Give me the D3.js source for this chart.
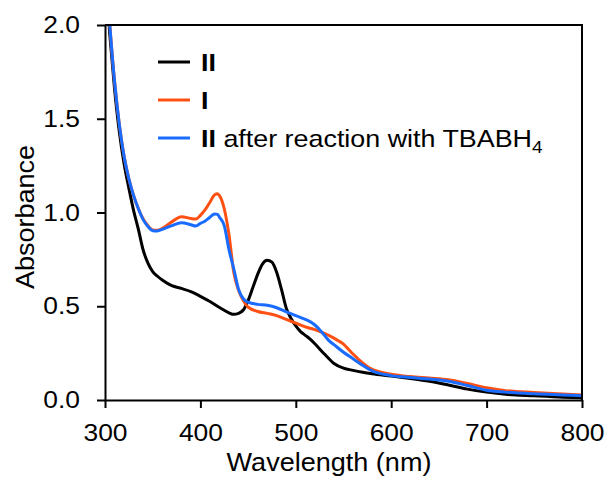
<!DOCTYPE html>
<html>
<head>
<meta charset="utf-8">
<script src="https://cdn.jsdelivr.net/npm/d3@7"></script>
<style>
  body { margin: 0; background: #fff; }
  svg { display: block; font-family: "Liberation Sans", Arial, sans-serif; }
</style>
</head>
<body>
<svg id="chart" width="608" height="477"></svg>
<script>
  // 数据：波长 (nm) 与吸光度
  const wlII = [300,305,310,315,320,325,330,335,340,345,350,355,360,370,380,390,400,410,420,430,435,440,445,450,455,460,465,470,475,480,485,490,495,500,505,510,515,520,530,540,550,560,570,580,600,620,640,660,680,700,720,750,780,800];
  const absII = [2.3,1.95,1.66,1.43,1.26,1.13,1.01,0.91,0.80,0.73,0.685,0.66,0.64,0.61,0.595,0.578,0.553,0.525,0.493,0.465,0.457,0.462,0.48,0.53,0.60,0.67,0.725,0.745,0.735,0.68,0.59,0.49,0.435,0.395,0.365,0.345,0.325,0.30,0.245,0.195,0.17,0.158,0.148,0.14,0.128,0.115,0.1,0.08,0.058,0.042,0.03,0.022,0.015,0.012];

  const wlI = [300,305,310,315,320,325,330,335,340,345,350,355,360,370,380,390,395,400,405,410,415,418,420,425,430,435,440,445,450,460,470,480,490,500,510,520,530,540,545,550,555,560,570,580,600,620,640,660,680,700,720,750,780,800];
  const absI = [2.35,2.0,1.70,1.47,1.30,1.18,1.09,1.02,0.965,0.93,0.907,0.905,0.915,0.95,0.978,0.968,0.965,0.985,1.015,1.055,1.095,1.10,1.09,1.02,0.88,0.68,0.585,0.53,0.495,0.472,0.462,0.45,0.43,0.41,0.39,0.375,0.355,0.33,0.315,0.298,0.272,0.245,0.198,0.163,0.138,0.125,0.117,0.108,0.088,0.065,0.05,0.04,0.032,0.027];

  const wlB = [300,305,310,315,320,325,330,335,340,345,350,355,360,370,380,390,395,400,405,410,415,418,420,425,430,435,440,445,450,460,470,480,490,500,510,515,520,525,530,535,540,550,560,570,580,600,620,640,660,680,700,720,750,780,800];
  const absB = [2.35,2.0,1.70,1.47,1.30,1.18,1.09,1.02,0.962,0.925,0.903,0.902,0.91,0.93,0.946,0.935,0.928,0.942,0.955,0.975,0.992,0.99,0.975,0.93,0.80,0.70,0.59,0.54,0.522,0.51,0.505,0.492,0.47,0.45,0.43,0.418,0.40,0.375,0.345,0.315,0.295,0.255,0.22,0.185,0.155,0.13,0.12,0.112,0.1,0.077,0.052,0.042,0.033,0.027,0.023];

  const xTicks = [300, 400, 500, 600, 700, 800];
  const yTicks = [0, 0.5, 1.0, 1.5, 2.0];

  const series = [
    { name: "II", wl: wlII, abs: absII, color: "#000000" },
    { name: "I", wl: wlI, abs: absI, color: "#ff5014" },
    { name: "IIB", wl: wlB, abs: absB, color: "#1a6cff" }
  ];

  const margin = { left: 105, top: 25, right: 26, bottom: 77 };
  const width = 608 - margin.left - margin.right;
  const height = 477 - margin.top - margin.bottom;
  const sx = 1.1; // 原图文字横向略宽

  const svg = d3.select("#chart");
  const g = svg.append("g").attr("transform", `translate(${margin.left},${margin.top})`);

  const x = d3.scaleLinear().domain([300, 800]).range([0, width]);
  const y = d3.scaleLinear().domain([0, 2.0]).range([height, 0]);

  svg.append("defs").append("clipPath").attr("id", "clip")
    .append("rect").attr("width", width).attr("height", height);

  // 曲线
  const line = d3.line()
    .x(d => x(d[0]))
    .y(d => y(d[1]))
    .curve(d3.curveMonotoneX);

  g.append("g").attr("clip-path", "url(#clip)")
    .selectAll("path")
    .data(series)
    .join("path")
    .attr("fill", "none")
    .attr("stroke", d => d.color)
    .attr("stroke-width", 3)
    .attr("stroke-linejoin", "round")
    .attr("d", d => line(d.wl.map((w, i) => [w, d.abs[i]])));

  // 坐标轴
  const xAxis = g.append("g")
    .attr("transform", `translate(0,${height})`)
    .call(d3.axisBottom(x).tickValues(xTicks).tickSize(8).tickPadding(16).tickSizeOuter(0));
  const yAxis = g.append("g")
    .call(d3.axisLeft(y).tickValues(yTicks).tickFormat(d3.format(".1f")).tickSize(8).tickPadding(17).tickSizeOuter(0));

  [xAxis, yAxis].forEach(a => {
    a.select(".domain").attr("stroke", "#000").attr("stroke-width", 2);
    a.selectAll(".tick line").attr("stroke", "#000").attr("stroke-width", 2);
    a.selectAll(".tick text").attr("font-size", 24).attr("fill", "#000")
      .attr("font-family", "Liberation Sans, Arial, sans-serif");
  });
  xAxis.selectAll(".tick text").attr("transform", `scale(${sx},1)`);
  yAxis.selectAll(".tick text").attr("x", -25 / sx).attr("transform", `scale(${sx},1)`);

  // 上边框和右边框
  g.append("path")
    .attr("d", `M0,0H${width}V${height}`)
    .attr("fill", "none")
    .attr("stroke", "#000")
    .attr("stroke-width", 2);

  // 轴标题
  svg.append("text")
    .attr("transform", `translate(329,471) scale(1.04,1)`)
    .attr("text-anchor", "middle")
    .attr("font-size", 26)
    .text("Wavelength (nm)");

  svg.append("text")
    .attr("transform", "translate(34,217) rotate(-90) scale(1.04,1)")
    .attr("text-anchor", "middle")
    .attr("font-size", 26)
    .text("Absorbance");

  // 图例
  const legendY = [62, 100, 138];
  const legend = svg.append("g");
  series.forEach((s, i) => {
    legend.append("line")
      .attr("x1", 158).attr("x2", 190)
      .attr("y1", legendY[i]).attr("y2", legendY[i])
      .attr("stroke", s.color).attr("stroke-width", 3);
    const t = legend.append("text")
      .attr("transform", `translate(201,${legendY[i] + 8.5}) scale(1.12,1)`)
      .attr("font-size", 24);
    if (i === 0) {
      t.append("tspan").attr("font-weight", "bold").text("II");
    } else if (i === 1) {
      t.append("tspan").attr("font-weight", "bold").text("I");
    } else {
      t.append("tspan").attr("font-weight", "bold").text("II");
      t.append("tspan").text(" after reaction with TBABH");
      t.append("tspan").attr("font-size", 17).attr("dy", 6).text("4");
    }
  });
</script>
</body>
</html>
